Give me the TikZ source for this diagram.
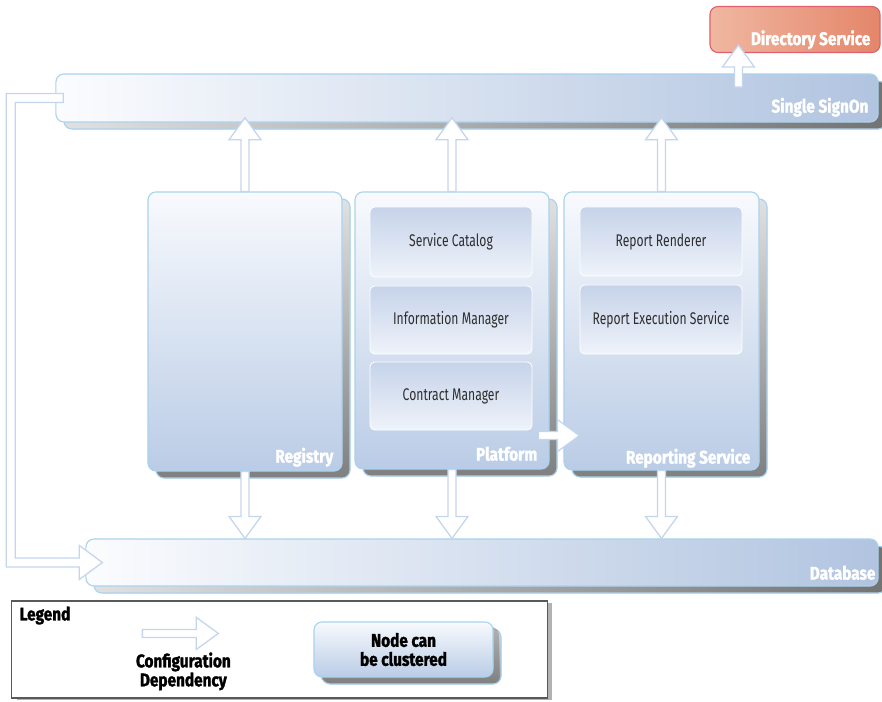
\documentclass[tikz,border=0pt]{standalone}
\usepackage{fontspec}
\setmainfont{Fira Sans}
\newfontfamily\heavyfont[FakeStretch=0.84,FakeBold=1.6]{Fira Sans}
\newfontfamily\slimfont[FakeStretch=0.72]{Fira Sans}
\usetikzlibrary{calc,shadows}

\definecolor{edgeblue}{HTML}{A9D3EE}
\definecolor{boxtop}{HTML}{F8FAFD}
\definecolor{boxbot}{HTML}{BACCE6}
\definecolor{barleft}{HTML}{FBFCFE}
\definecolor{barright}{HTML}{B1C4E0}
\definecolor{parttop}{HTML}{C6D3E9}
\definecolor{partbot}{HTML}{EFF3FA}
\definecolor{dirleft}{HTML}{F0B7A1}
\definecolor{dirright}{HTML}{E4866A}
\definecolor{diredge}{HTML}{E0606E}
\definecolor{depline}{HTML}{C4D5EE}
\definecolor{parttext}{HTML}{2E2E2E}

\tikzstyle{tier}=[draw=edgeblue,line width=0.8pt,rounded corners=0.2cm,left color=barleft,right color=barright,
  drop shadow={shadow xshift=0.2cm,shadow yshift=-0.175cm,opacity=1,left color=black!12,right color=black!55,draw=edgeblue}]
\tikzstyle{unit}=[draw=edgeblue,line width=0.8pt,rounded corners=0.2cm,top color=boxtop,bottom color=boxbot,
  drop shadow={shadow xshift=0.2cm,shadow yshift=-0.175cm,opacity=1,top color=black!12,bottom color=black!50,draw=edgeblue}]
\tikzstyle{dirbox}=[draw=diredge,line width=0.8pt,rounded corners=0.2cm,left color=dirleft,right color=dirright]
\tikzstyle{part}=[draw=white,line width=0.6pt,rounded corners=0.12cm,top color=parttop,bottom color=partbot,
  minimum width=4.05cm,text=parttext,font=\slimfont\fontsize{12}{14}\selectfont]
\tikzstyle{tag}=[anchor=base east,inner sep=0pt,text=white,font=\heavyfont\bfseries\fontsize{13}{14}\selectfont]
\tikzstyle{legendtext}=[inner sep=0pt,align=center,text=black,font=\heavyfont\bfseries\fontsize{13}{13.5}\selectfont]
\tikzstyle{cfgdep}=[draw=depline,fill=white,line width=0.9pt,line join=miter,
  to path={($(\tikztostart)!0.1cm!90:(\tikztotarget)$)
    -- ($(\tikztotarget)!0.55cm!(\tikztostart)!0.1cm!-90:(\tikztostart)$)
    -- ($(\tikztotarget)!0.55cm!(\tikztostart)!0.4cm!-90:(\tikztostart)$)
    -- (\tikztotarget)
    -- ($(\tikztotarget)!0.55cm!(\tikztostart)!0.4cm!90:(\tikztostart)$)
    -- ($(\tikztotarget)!0.55cm!(\tikztostart)!0.1cm!90:(\tikztostart)$)
    -- ($(\tikztostart)!0.1cm!-90:(\tikztotarget)$) -- cycle}]

\begin{document}
\begin{tikzpicture}[x=0.025cm,y=-0.025cm]
	\useasboundingbox (0,0) rectangle (882,702);

	% Tiers
	\node[dirbox,minimum width=4.25cm,minimum height=1.15cm] (dir) at (795,29.5) {};
	\node[tier,minimum width=20.55cm,minimum height=1.2cm] (sso) at (467,98) {};
	\node[tier,minimum width=19.8cm,minimum height=1.175cm] (db) at (482,562.5) {};

	% Services
	\node[unit,minimum width=4.85cm,minimum height=6.975cm] (reg) at (245,331.5) {};
	\node[unit,minimum width=4.85cm,minimum height=6.925cm] (plat) at (452,330.5) {};
	\node[unit,minimum width=4.875cm,minimum height=6.95cm] (rep) at (661.5,331) {};

	\node[part,minimum height=1.75cm] (catalog) at (451,242) {Service Catalog};
	\node[part,minimum height=1.7cm] (infoman) at (451,320) {Information Manager};
	\node[part,minimum height=1.7cm] (contract) at (451,396) {Contract Manager};
	\node[part,minimum height=1.725cm] (renderer) at (661,241.5) {Report Renderer};
	\node[part,minimum height=1.725cm] (execution) at (661,319.5) {Report Execution Service};

	% Labels
	\node[tag] (dirtag) at ([shift={(-10,-8)}]dir.south east) {Directory Service};
	\node[tag] (ssotag) at ([shift={(-10,-10)}]sso.south east) {Single SignOn};
	\node[tag] (regtag) at ([shift={(-9,-9)}]reg.south east) {Registry};
	\node[tag] (plattag) at ([shift={(-12,-9)}]plat.south east) {Platform};
	\node[tag] (reptag) at ([shift={(-9,-7)}]rep.south east) {Reporting Service};
	\node[tag] (dbtag) at ([shift={(-3,-7)}]db.south east) {Database};

	% Dependencies
	\draw[cfgdep] (reg.north) to ([yshift=0.12cm]reg.north |- sso.south);
	\draw[cfgdep] (plat.north) to ([yshift=0.12cm]plat.north |- sso.south);
	\draw[cfgdep] (rep.north) to ([yshift=0.12cm]rep.north |- sso.south);
	\draw[cfgdep] ([shift={(29,34)}]dir.south west) to ([shift={(29,-8)}]dir.south west);
	\draw[cfgdep] (reg.south) to (reg.south |- db.north);
	\draw[cfgdep] (plat.south) to (plat.south |- db.north);
	\draw[cfgdep] (rep.south) to (rep.south |- db.north);
	\draw[cfgdep] ([shift={(-11,-34)}]plat.south east) to ([shift={(16,-35)}]rep.south west);
	\draw[draw=depline,fill=white,line width=0.9pt,line join=miter]
		([shift={(8,-4.5)}]sso.west) -- ([shift={(-49,-4.5)}]sso.west)
		|- ([shift={(-6,4.5)}]db.west) -- ++(0,12.5) -- ([shift={(17,0)}]db.west)
		-- ([shift={(-6,-17)}]db.west) -- ([shift={(-6,-4.5)}]db.west)
		-| ([shift={(-40,4.5)}]sso.west) -- ([shift={(8,4.5)}]sso.west) -- cycle;

	% Legend
	\node[draw=black!65,line width=0.8pt,fill=white,minimum width=13.375cm,minimum height=2.425cm,
		drop shadow={shadow xshift=0.12cm,shadow yshift=-0.05cm,opacity=1,fill=black!30}] (legend) at (279.5,649.5) {};
	\node[legendtext,anchor=base west] (legendtitle) at ([shift={(8,20)}]legend.north west) {Legend};
	\draw[cfgdep] ([shift={(131,33)}]legend.north west) to ([shift={(207,33)}]legend.north west);
	\node[legendtext] (deptext) at ([shift={(172,71)}]legend.north west) {Configuration\\Dependency};
	\node[unit,minimum width=4.475cm,minimum height=1.375cm,legendtext,
		drop shadow={shadow xshift=0.15cm,shadow yshift=-0.125cm}] (cluster) at (403.5,649.5) {Node can\\be clustered};
\end{tikzpicture}
\end{document}
